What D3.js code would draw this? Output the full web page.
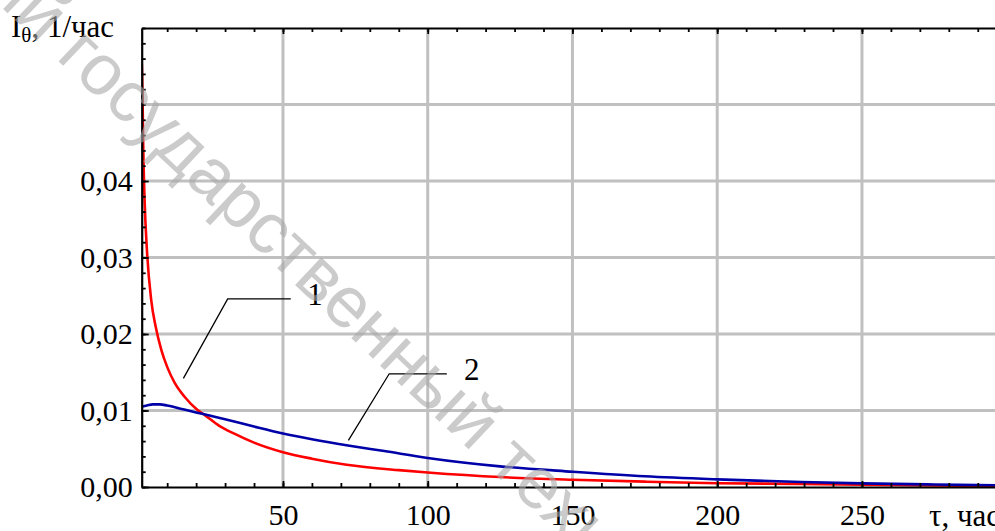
<!DOCTYPE html>
<html lang="ru">
<head>
  <meta charset="UTF-8">
  <title>I_theta(tau)</title>
  <script src="https://d3js.org/d3.v7.min.js"></script>
  <style>
    body {
      margin: 0;
      padding: 0;
      background-color: white;
    }

    svg {
      display: block;
      background-color: white;
    }

    .axis path,
    .axis line {
      stroke: black;
    }

    .axis text {
      font-family: "Liberation Serif", "Times New Roman", serif;
      font-size: 30px;
      fill: black;
    }

    .grid line {
      stroke: #c0c0c0;
      stroke-width: 3px;
    }

    .title {
      font-family: "Liberation Serif", "Times New Roman", serif;
      font-size: 31px;
      fill: black;
    }

    .leader {
      stroke: black;
      stroke-width: 1.3px;
      fill: none;
    }
  </style>
</head>
<body>
  <script>
    // curve 1 (red)
    const tau1 = [1.2, 1.3, 1.5, 1.75, 2.2, 3, 4.5, 6, 8, 10, 12.6, 16, 20.4, 23, 28, 33, 40, 50, 60, 72, 90, 100, 125, 150, 175, 200, 229, 250, 275, 300];
    const val1 = [0.0556, 0.0545, 0.0506, 0.0441, 0.0375, 0.031, 0.0244, 0.021, 0.0179, 0.0157, 0.0136, 0.0118, 0.0101, 0.0094, 0.0080, 0.0070, 0.0058, 0.00455, 0.0037, 0.0029, 0.0022, 0.0019, 0.0013, 0.00095, 0.0007, 0.0005, 0.0004, 0.0003, 0.0002, 0.00015];

    // curve 2 (blue)
    const tau2 = [1.2, 3, 5, 7.5, 10, 15, 20, 25, 30, 40, 50, 60, 73, 85, 100, 125, 150, 175, 200, 229, 250, 275, 300];
    const val2 = [0.0105, 0.01065, 0.0108, 0.0108, 0.01065, 0.0102, 0.00975, 0.0093, 0.00885, 0.0079, 0.0070, 0.00625, 0.0054, 0.0047, 0.0038, 0.0027, 0.0020, 0.0014, 0.0010, 0.00065, 0.00048, 0.00033, 0.0002];

    const xMajor = [50, 100, 150, 200, 250, 300];
    const xLabels = [50, 100, 150, 200, 250];
    const yMajor = [0, 0.01, 0.02, 0.03, 0.04, 0.05, 0.06];
    const yLabels = [0, 0.01, 0.02, 0.03, 0.04];

    const width = 995;
    const height = 531;

    const x = d3.scaleLinear().domain([1.2, 300]).range([141.7, 1006.7]);
    const y = d3.scaleLinear().domain([0, 0.06]).range([487, 28]);

    const fmt = v => d3.format(".2f")(v).replace(".", ",");

    const svg = d3.select("body").append("svg")
      .attr("width", width)
      .attr("height", height);

    svg.append("defs").append("clipPath").attr("id", "plot")
      .append("rect")
      .attr("x", x.range()[0]).attr("y", y.range()[1])
      .attr("width", x.range()[1] - x.range()[0])
      .attr("height", y.range()[0] - y.range()[1]);

    // grid
    const grid = svg.append("g").attr("class", "grid");
    grid.selectAll(".gx")
      .data(xMajor)
      .enter().append("line")
      .attr("x1", d => x(d)).attr("x2", d => x(d))
      .attr("y1", y(0)).attr("y2", y(0.06));
    grid.selectAll(".gy")
      .data(yMajor.slice(1, -1))
      .enter().append("line")
      .attr("x1", x.range()[0]).attr("x2", x.range()[1])
      .attr("y1", d => y(d)).attr("y2", d => y(d));

    // curves
    const line = d3.line()
      .x(d => x(d[0]))
      .y(d => y(d[1]))
      .curve(d3.curveMonotoneX);

    const curves = svg.append("g").attr("clip-path", "url(#plot)");
    curves.append("path")
      .datum(d3.zip(tau1, val1))
      .attr("d", line)
      .attr("fill", "none")
      .attr("stroke", "#ff0000")
      .attr("stroke-width", 2.6);
    curves.append("path")
      .datum(d3.zip(tau2, val2))
      .attr("d", line)
      .attr("fill", "none")
      .attr("stroke", "#0000a8")
      .attr("stroke-width", 2.6);

    // axes: minor ticks first, then major ones with labels
    const xMinor = d3.range(10, 301, 10);
    const yMinor = d3.range(0, 0.0601, 0.002);

    const addAxis = (axis, tr) => svg.append("g")
      .attr("class", "axis")
      .attr("transform", tr)
      .call(axis)
      .call(g => g.selectAll("line").attr("stroke-width", 1.8))
      .call(g => g.select(".domain").attr("stroke-width", 2.2));

    addAxis(d3.axisBottom(x).tickValues(xMinor).tickSizeInner(-4).tickSizeOuter(0).tickFormat(""), `translate(0,${y(0)})`);
    addAxis(d3.axisTop(x).tickValues(xMinor).tickSizeInner(-4).tickSizeOuter(0).tickFormat(""), `translate(0,${y(0.06)})`);
    addAxis(d3.axisLeft(y).tickValues(yMinor).tickSizeInner(-4).tickSizeOuter(0).tickFormat(""), `translate(${x.range()[0]},0)`);

    addAxis(d3.axisBottom(x).tickValues(xLabels).tickSizeInner(-6).tickSizeOuter(0).tickPadding(17), `translate(0,${y(0)})`)
      .call(g => g.select(".domain").remove());
    addAxis(d3.axisTop(x).tickValues(xMajor).tickSizeInner(-6).tickSizeOuter(0).tickFormat(""), `translate(0,${y(0.06)})`)
      .call(g => g.select(".domain").remove());
    addAxis(d3.axisLeft(y).tickValues(yLabels).tickSizeInner(-7).tickSizeOuter(0).tickPadding(9).tickFormat(fmt), `translate(${x.range()[0]},0)`)
      .call(g => g.select(".domain").remove());

    // axis titles
    const yt = svg.append("text").attr("class", "title").attr("x", 11).attr("y", 37);
    yt.append("tspan").text("I");
    yt.append("tspan").attr("font-size", "21px").attr("dy", 5).text("θ");
    yt.append("tspan").attr("dy", -5).text(", 1/час");

    svg.append("text").attr("class", "title")
      .attr("x", 929).attr("y", 526)
      .text("τ, час");

    // leaders with curve numbers
    const leaders = [
      { label: "1", pts: [[15.6, 0.0142], [30.9, 0.0246], [52.7, 0.0246]], tx: 58.4 },
      { label: "2", pts: [[72.6, 0.0061], [86.7, 0.0148], [106.6, 0.0148]], tx: 112.5 }
    ];
    const lline = d3.line().x(d => x(d[0])).y(d => y(d[1]));
    leaders.forEach(l => {
      svg.append("path").attr("class", "leader").attr("d", lline(l.pts));
      svg.append("text").attr("class", "title")
        .attr("font-size", "30px")
        .attr("x", x(l.tx)).attr("y", y(l.pts[2][1]))
        .attr("dy", "0.2em")
        .text(l.label);
    });

    // watermark
    const wm = svg.append("g")
      .attr("transform", "translate(55,58) rotate(43.4)")
      .attr("font-family", "Liberation Sans, Arial, sans-serif")
      .attr("font-size", "72px")
      .attr("fill", "#a8a8a8")
      .attr("fill-opacity", 0.6);
    wm.append("text").attr("x", -20).attr("text-anchor", "end").text("Витебский");
    wm.append("text").attr("x", 0).text("государственный технологический университет");
  </script>
</body>
</html>
